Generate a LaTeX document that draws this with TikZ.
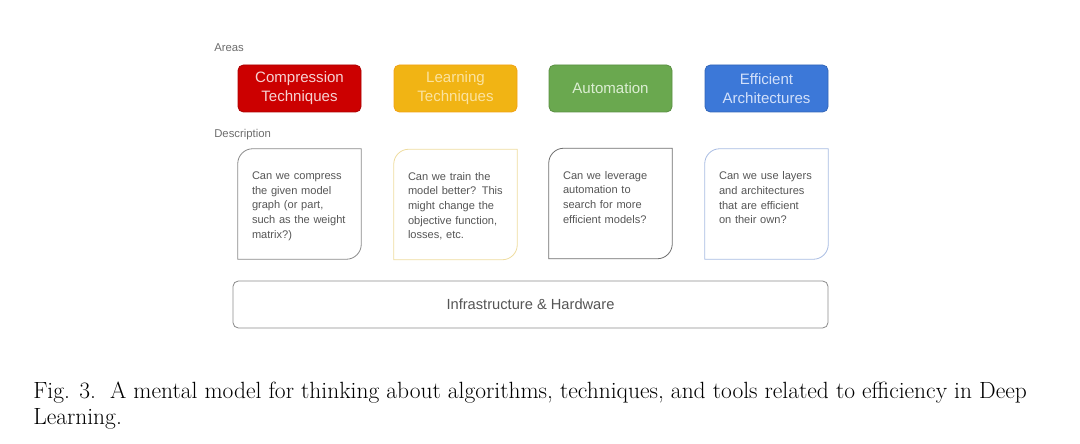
\documentclass[tikz,border=0pt]{standalone}
\usepackage{fontspec}
\newfontfamily\slidefont{Liberation Sans}
\usetikzlibrary{positioning}

\definecolor{compred}{HTML}{CC0000}
\definecolor{comptxt}{HTML}{F6D2D2}
\definecolor{learnorange}{HTML}{F1B414}
\definecolor{learntxt}{HTML}{FBE3A0}
\definecolor{autogreen}{HTML}{6AA84F}
\definecolor{autotxt}{HTML}{DCEED3}
\definecolor{effblue}{HTML}{3C78D8}
\definecolor{efftxt}{HTML}{D2E0FA}
\definecolor{descgray}{HTML}{8A8A8A}
\definecolor{descyellow}{HTML}{EEDC9E}
\definecolor{descdark}{HTML}{6E6E6E}
\definecolor{descblue}{HTML}{A8BCE2}
\definecolor{desctxt}{HTML}{555555}

\tikzset{
  area/.style={rounded corners=4pt, minimum width=92.25pt, minimum height=35.25pt,
    align=center, inner sep=0pt, line width=0.6pt,
    font=\slidefont\fontsize{11.3}{14.25}\selectfont},
  descbox/.style={minimum width=92.25pt, minimum height=82.5pt, inner sep=0pt},
  desctext/.style={anchor=north west, align=left, text width=80pt, inner sep=0pt,
    font=\slidefont\fontsize{8.3}{11}\selectfont, text=desctxt},
  heading/.style={anchor=west, inner sep=0pt, text=gray!85!black,
    font=\slidefont\fontsize{8.5}{10}\selectfont},
}

\begin{document}
\begin{tikzpicture}[x=0.75pt,y=0.75pt]
  \useasboundingbox (0,0) rectangle (1080,443);

  % Areas
  \node[heading] (areas) at (214,395.5) {Areas};
  \node[area, fill=compred, draw=compred!85!black, text=comptxt] (comp) at (299.5,354.5) {Compression\\Techniques};
  \node[area, fill=learnorange, draw=learnorange!90!red, text=learntxt] (learn) at (455.5,354.5) {Learning\\Techniques};
  \node[area, fill=autogreen, draw=autogreen!85!black, text=autotxt] (auto) at (610.5,354.5) {Automation};
  \node[area, fill=effblue, draw=effblue!85!black, text=efftxt] (eff) at (766.5,354.5) {Efficient\\Architectures};

  % Description
  \node[heading] (descr) at (214,308.5) {Description};
  \node[descbox] (dcomp) at (299.5,239) {};
  \node[descbox] (dlearn) at (455.5,238.5) {};
  \node[descbox] (dauto) at (610.5,239.5) {};
  \node[descbox] (deff) at (766.5,239) {};

  \foreach \n/\c in {dcomp/descgray, dlearn/descyellow, dauto/descdark, deff/descblue}
    \draw[\c, line width=0.6pt] (\n.south west) -- ([yshift=-11.25pt]\n.north west)
      arc[start angle=180, end angle=90, radius=11.25pt] -- (\n.north east)
      -- ([yshift=11.25pt]\n.south east)
      arc[start angle=0, end angle=-90, radius=11.25pt] -- cycle;

  \node[desctext] (tcomp) at ([xshift=10.5pt,yshift=-17pt]dcomp.north west) {Can we compress\\the given model\\graph (or part,\\such as the weight\\matrix?)};
  \node[desctext] (tlearn) at ([xshift=10.5pt,yshift=-17pt]dlearn.north west) {Can we train the\\model better? This\\might change the\\objective function,\\losses, etc.};
  \node[desctext] (tauto) at ([xshift=10.5pt,yshift=-17pt]dauto.north west) {Can we leverage\\automation to\\search for more\\efficient models?};
  \node[desctext] (teff) at ([xshift=10.5pt,yshift=-17pt]deff.north west) {Can we use layers\\and architectures\\that are efficient\\on their own?};

  % Infrastructure
  \node[draw=descgray, rounded corners=4pt, line width=0.6pt, minimum width=446.25pt,
    minimum height=35.25pt, text=desctxt, font=\slidefont\fontsize{11}{13}\selectfont] (infra) at (530.5,138.5) {Infrastructure \& Hardware};

  % Caption
  \node[anchor=base west, align=left, inner sep=0pt, font=\fontsize{17.6}{19.5}\selectfont] (caption) at (33,19) {Fig. 3.\ \ A mental model for thinking about algorithms, techniques, and tools related to efficiency in Deep\\Learning.};
\end{tikzpicture}
\end{document}
